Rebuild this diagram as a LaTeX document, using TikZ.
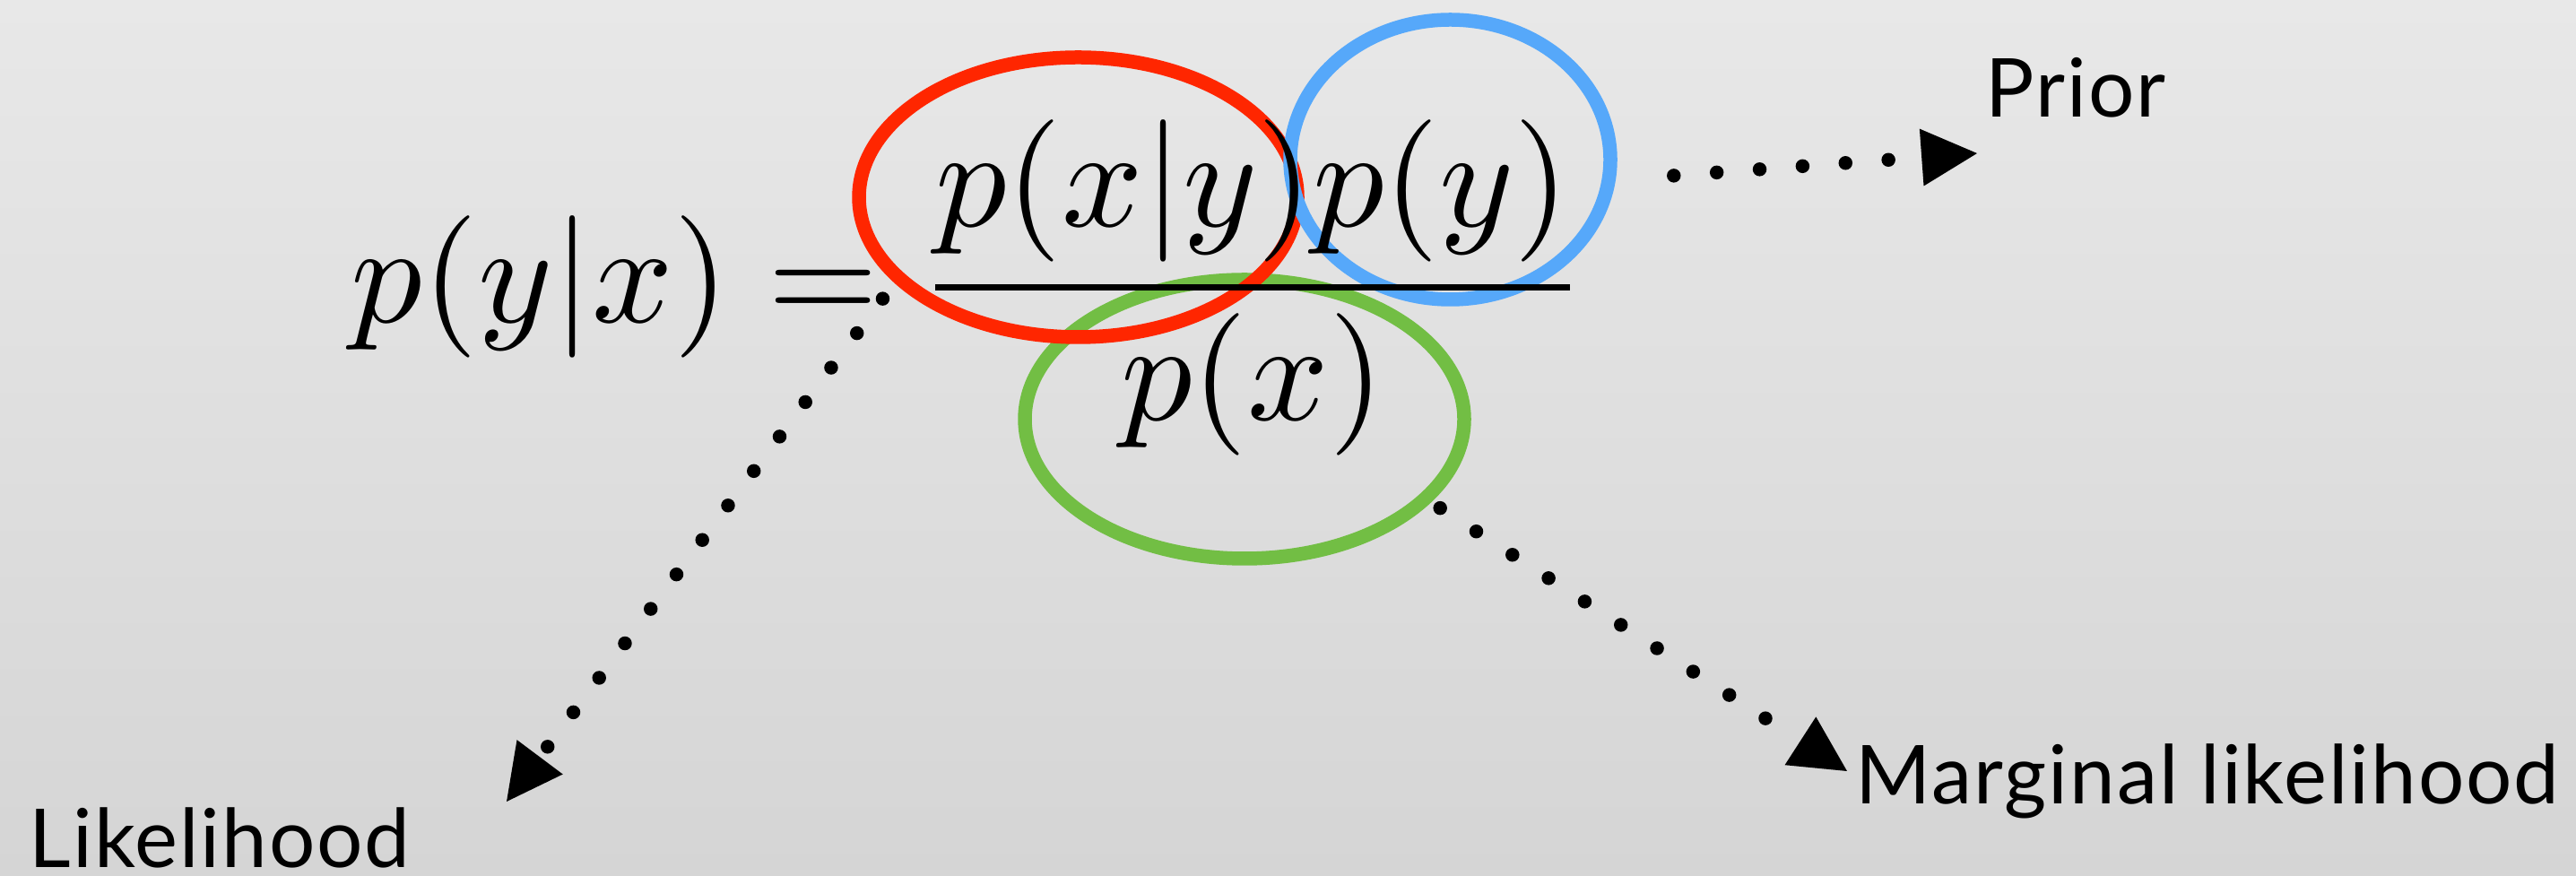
\documentclass[tikz,border=0pt]{standalone}
\usepackage[no-math]{fontspec}
\usepackage{graphicx}
\newfontfamily\tagfont[LetterSpace=2.2]{Lato}
\usetikzlibrary{arrows.meta,shapes.geometric}

\definecolor{bayesred}{RGB}{255,38,0}
\definecolor{bayesblue}{RGB}{86,168,250}
\definecolor{bayesgreen}{RGB}{114,190,68}
\definecolor{bgtop}{RGB}{232,232,232}
\definecolor{bgbottom}{RGB}{213,213,213}

\begin{document}
\begin{tikzpicture}[
  bubble/.style={draw, ellipse, line width=1.55mm, inner sep=0pt},
  tag/.style={font={\tagfont\fontsize{25.8pt}{30pt}\selectfont}, inner sep=0pt, text depth=0pt, anchor=base west},
  hint/.style={line width=1.55mm, line cap=round, dash pattern=on 0pt off 4.8mm,
    -{Triangle[length=6.2mm, width=6.4mm, line width=0pt]}}
]

% page and backdrop
\useasboundingbox (0,0) rectangle (28.73,-9.77);
\fill[top color=bgtop, bottom color=bgbottom] (0,0) rectangle (28.73,-9.77);

% the three circled terms
\node[bubble, draw=bayesgreen, minimum width=4.90cm, minimum height=3.11cm] (evidence) at (13.88,-4.675) {};
\node[bubble, draw=bayesred, minimum width=4.89cm, minimum height=3.12cm] (lik) at (12.025,-2.20) {};
\node[bubble, draw=bayesblue, minimum width=3.57cm, minimum height=3.12cm] (prior) at (16.175,-1.78) {};

% Bayes rule
\node[inner sep=0pt, anchor=base west] (bayes) at (3.91,-3.60)
  {\scalebox{4.51}{$\displaystyle p(y|x) = \frac{p(x|y)p(y)}{p(x)}$}};

% free ends of the pointers
\coordinate (priortip) at (22.05,-1.71);
\coordinate (liktip) at (5.65,-8.94);
\coordinate (evidencetip) at (20.60,-8.60);

\draw[hint, shorten <=6.5mm] (prior.-7.8) -- (priortip);
\draw[hint, shorten <=2.2mm] (lik.205) -- (liktip);
\draw[hint, shorten <=1.2mm] (evidence.-24.5) -- (evidencetip);

% labels
\node[tag] (priortag) at (22.14,-1.31) {Prior};
\node[tag] (liktag) at (0.32,-9.68) {Likelihood};
\node[tag] (evidencetag) at (20.69,-8.97) {Marginal likelihood};

\end{tikzpicture}
\end{document}
